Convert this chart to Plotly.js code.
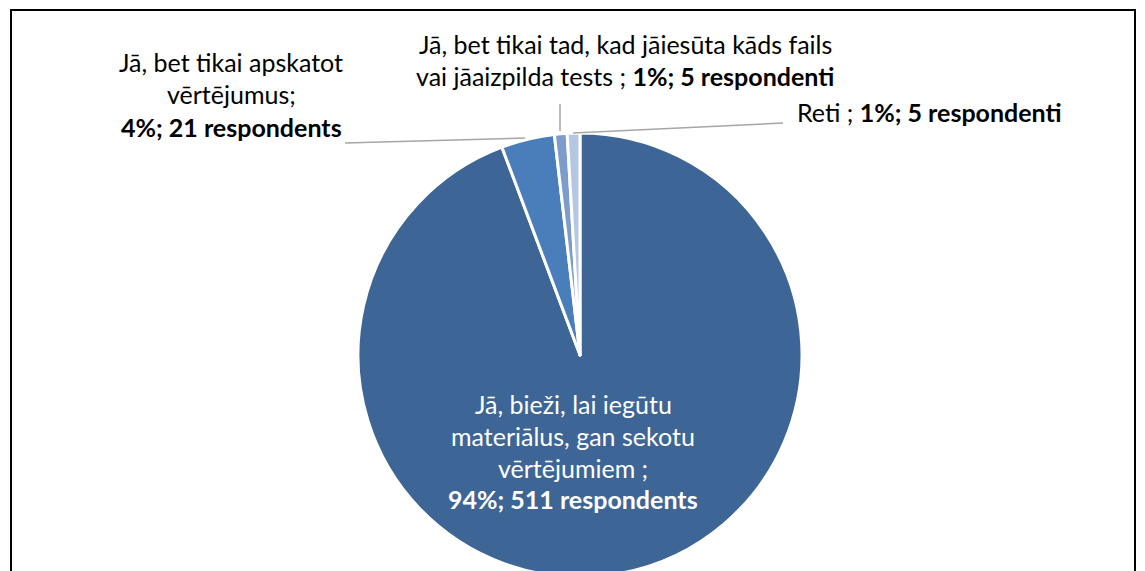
<!DOCTYPE html>
<html><head><meta charset="utf-8">
<script src="https://cdn.plot.ly/plotly-3.0.1.min.js"></script>
<style>html,body{margin:0;padding:0;overflow:hidden;background:#fff}#g{width:1145px;height:620px}</style>
</head><body><div id="g"></div>
<script>
// Data
const categories = [
  "Jā, bieži, lai iegūtu materiālus, gan sekotu vērtējumiem",
  "Jā, bet tikai apskatot vērtējumus",
  "Jā, bet tikai tad, kad jāiesūta kāds fails vai jāaizpilda tests",
  "Reti"
];
const respondents = [511, 21, 5, 5];
const percentLabels = ["94%", "4%", "1%", "1%"];
const unitWords = ["respondents", "respondents", "respondenti", "respondenti"];
const colors = ["#3D6596", "#4A7EBB", "#7D9BCB", "#B5C6E3"];

const W = 1145, H = 620;
const px = x => x / W, py = y => 1 - y / H;
const FONT = "Lato, 'Open Sans', sans-serif";

const trace = {
  type: "pie",
  values: respondents,
  labels: categories,
  sort: false,
  direction: "clockwise",
  rotation: 0,
  textinfo: "none",
  hoverinfo: "label+value+percent",
  marker: {colors: colors, line: {color: "#ffffff", width: 3}},
  domain: {x: [358 / W, 802 / W], y: [1 - 577 / H, 1 - 133 / H]},
  showlegend: false
};

const bold = i => "<b>" + percentLabels[i] + "; " + respondents[i] + " " + unitWords[i] + "</b>";

// label lines (layout of the text split into lines)
const labelDefs = [
  {x: 573, ys: [404, 436, 468, 499], color: "#ffffff",
   lines: ["Jā, bieži, lai iegūtu", "materiālus, gan sekotu", "vērtējumiem ;", bold(0)]},
  {x: 231, ys: [62, 94, 127], color: "#000000",
   lines: ["Jā, bet tikai apskatot", "vērtējumus;", bold(1)]},
  {x: 625, ys: [44, 76], color: "#000000",
   lines: ["Jā, bet tikai tad, kad jāiesūta kāds fails", "vai jāaizpilda tests ; " + bold(2)]},
  {x: 929, ys: [112], color: "#000000",
   lines: ["Reti ; " + bold(3)]}
];

const annotations = [];
labelDefs.forEach(d => {
  d.lines.forEach((t, k) => {
    annotations.push({
      xref: "paper", yref: "paper", x: px(d.x), y: py(d.ys[k]),
      xanchor: "center", yanchor: "middle", showarrow: false,
      text: t, font: {family: FONT, size: 25, color: d.color}
    });
  });
});

const leader = (x0, y0, x1, y1) => ({
  type: "line", xref: "paper", yref: "paper",
  x0: px(x0), y0: py(y0), x1: px(x1), y1: py(y1),
  line: {color: "#A6A6A6", width: 1.5}
});

const shapes = [
  {type: "path", xref: "paper", yref: "paper",
   path: "M " + px(11) + "," + py(610) + " L " + px(11) + "," + py(10) + " L " + px(1135) + "," + py(10) + " L " + px(1135) + "," + py(610),
   line: {color: "#000000", width: 2}},
  leader(345, 143, 525, 138),
  leader(560, 104, 560, 131),
  leader(573, 133, 783, 123)
];

const layout = {
  width: W, height: H,
  margin: {l: 0, r: 0, t: 0, b: 0},
  paper_bgcolor: "#ffffff",
  annotations: annotations,
  shapes: shapes,
  showlegend: false
};

Plotly.newPlot("g", [trace], layout, {displayModeBar: false, staticPlot: true});
</script></body></html>
